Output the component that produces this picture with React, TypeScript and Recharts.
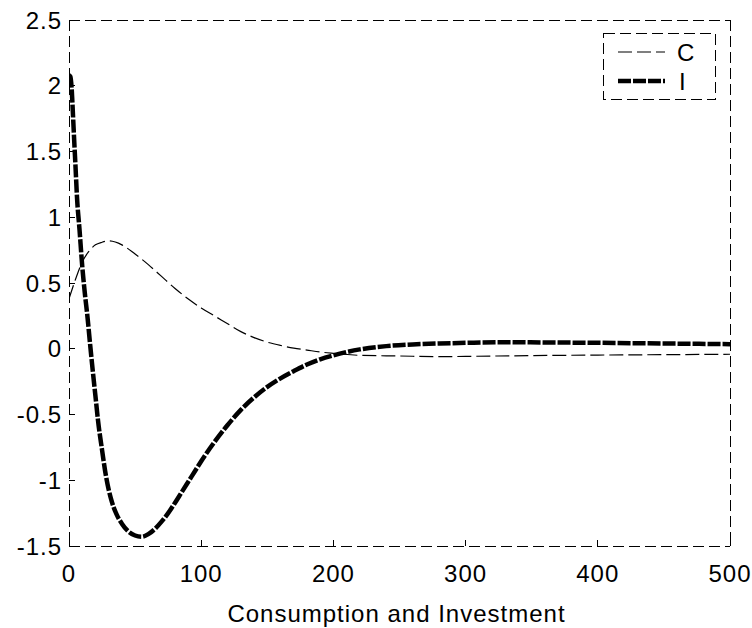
import React from 'react';
import { LineChart, Line, XAxis, YAxis, Legend, Label } from 'recharts';

// time axis samples and values
const cTimes = [0, 5, 10, 15, 20, 25, 30, 40, 50, 60, 70, 80, 90, 100, 110, 120, 130, 140, 150, 160, 170, 180, 190, 200, 220, 250, 280, 300, 350, 400, 450, 500];
const cValues = [0.38, 0.53, 0.66, 0.74, 0.79, 0.81, 0.82, 0.79, 0.72, 0.64, 0.55, 0.46, 0.38, 0.31, 0.25, 0.19, 0.13, 0.085, 0.05, 0.025, 0.005, -0.01, -0.025, -0.035, -0.05, -0.055, -0.06, -0.058, -0.052, -0.048, -0.045, -0.042];

const iTimes = [0, 1, 2, 3, 4, 5, 6, 8, 10, 12, 14, 16, 18, 20, 22, 25, 28, 32, 36, 40, 45, 50, 55, 60, 65, 70, 75, 80, 85, 90, 95, 100, 110, 120, 130, 140, 150, 160, 170, 180, 190, 200, 210, 220, 240, 260, 280, 300, 330, 360, 400, 450, 500];
const iValues = [2.08, 2.07, 1.98, 1.78, 1.57, 1.37, 1.16, 0.9, 0.63, 0.42, 0.24, 0.03, -0.17, -0.36, -0.55, -0.77, -0.97, -1.15, -1.26, -1.33, -1.39, -1.42, -1.43, -1.41, -1.37, -1.315, -1.25, -1.175, -1.095, -1.015, -0.935, -0.855, -0.71, -0.58, -0.465, -0.37, -0.29, -0.225, -0.17, -0.12, -0.08, -0.05, -0.025, -0.005, 0.02, 0.033, 0.04, 0.045, 0.05, 0.048, 0.045, 0.04, 0.035];

const xTicks = [0, 100, 200, 300, 400, 500];
const yTicks = [-1.5, -1, -0.5, 0, 0.5, 1, 1.5, 2, 2.5];
const seriesNames = ['C', 'I'];

const cData = cTimes.map((t, k) => ({ t, v: cValues[k] }));
const iData = iTimes.map((t, k) => ({ t, v: iValues[k] }));

const FONT = '"Liberation Sans", Arial, Helvetica, sans-serif';
const frameDash = '11 5';
const cDash = '14 5';
const iDash = '13 2';

const tickStyle = { fontSize: 24, fill: '#000', fontFamily: FONT, letterSpacing: 1 };
const frameLine = { stroke: '#000', strokeWidth: 1, strokeDasharray: frameDash, shapeRendering: 'crispEdges' };
const tickLineStyle = { stroke: '#000', strokeWidth: 1, shapeRendering: 'crispEdges' };

const LegendBox = () => (
  <svg width={114} height={68} style={{ display: 'block' }}>
    <rect x={0.5} y={0.5} width={112} height={66} fill="#fff" stroke="#000" strokeDasharray={frameDash} shapeRendering="crispEdges" />
    <line x1={15} y1={19} x2={62} y2={19} stroke="#000" strokeWidth={1.2} strokeDasharray={cDash} />
    <text x={74} y={27.5} fontSize={24} fontFamily={FONT}>{seriesNames[0]}</text>
    <line x1={15} y1={48} x2={62} y2={48} stroke="#000" strokeWidth={4.5} strokeDasharray={iDash} />
    <text x={76} y={56.5} fontSize={24} fontFamily={FONT}>{seriesNames[1]}</text>
  </svg>
);

export default function App() {
  return (
    <div style={{ position: 'absolute', left: 0, top: 0, width: 752, height: 628, background: '#fff' }}>
      <LineChart width={752} height={628} margin={{ top: 19, right: 21, bottom: 0, left: 0 }}>
        <XAxis
          dataKey="t"
          type="number"
          domain={[0, 500]}
          ticks={xTicks}
          allowDataOverflow
          height={82}
          tickSize={-6}
          tickMargin={25}
          tickLine={tickLineStyle}
          axisLine={frameLine}
          tick={tickStyle}
        >
          <Label
            value="Consumption and Investment"
            position="insideBottom"
            offset={6}
            dx={-3}
            style={{ fontSize: 24, fill: '#000', fontFamily: FONT, letterSpacing: 1 }}
          />
        </XAxis>
        <XAxis
          xAxisId="top"
          orientation="top"
          dataKey="t"
          type="number"
          domain={[0, 500]}
          ticks={xTicks}
          allowDataOverflow
          height={1}
          tickSize={-6}
          tick={false}
          tickLine={tickLineStyle}
          axisLine={frameLine}
        />
        <YAxis
          type="number"
          domain={[-1.5, 2.5]}
          ticks={yTicks}
          allowDataOverflow
          width={69}
          tickSize={-6}
          tickMargin={13}
          tickLine={tickLineStyle}
          axisLine={frameLine}
          tick={tickStyle}
        />
        <YAxis
          yAxisId="right"
          orientation="right"
          type="number"
          domain={[-1.5, 2.5]}
          ticks={yTicks}
          allowDataOverflow
          width={1}
          tickSize={-6}
          tick={false}
          tickLine={tickLineStyle}
          axisLine={frameLine}
        />
        <Legend
          layout="horizontal"
          verticalAlign="middle"
          align="center"
          wrapperStyle={{ position: 'absolute', left: 603, top: 33, width: 114, height: 68 }}
          content={() => <LegendBox />}
        />
        <Line
          data={cData}
          dataKey="v"
          name={seriesNames[0]}
          type="monotone"
          stroke="#000"
          strokeWidth={1.2}
          strokeDasharray={cDash}
          dot={false}
          activeDot={false}
          isAnimationActive={false}
        />
        <Line
          data={iData}
          dataKey="v"
          name={seriesNames[1]}
          type="monotone"
          stroke="#000"
          strokeWidth={4.5}
          strokeDasharray={iDash}
          dot={false}
          activeDot={false}
          isAnimationActive={false}
        />
      </LineChart>
    </div>
  );
}
